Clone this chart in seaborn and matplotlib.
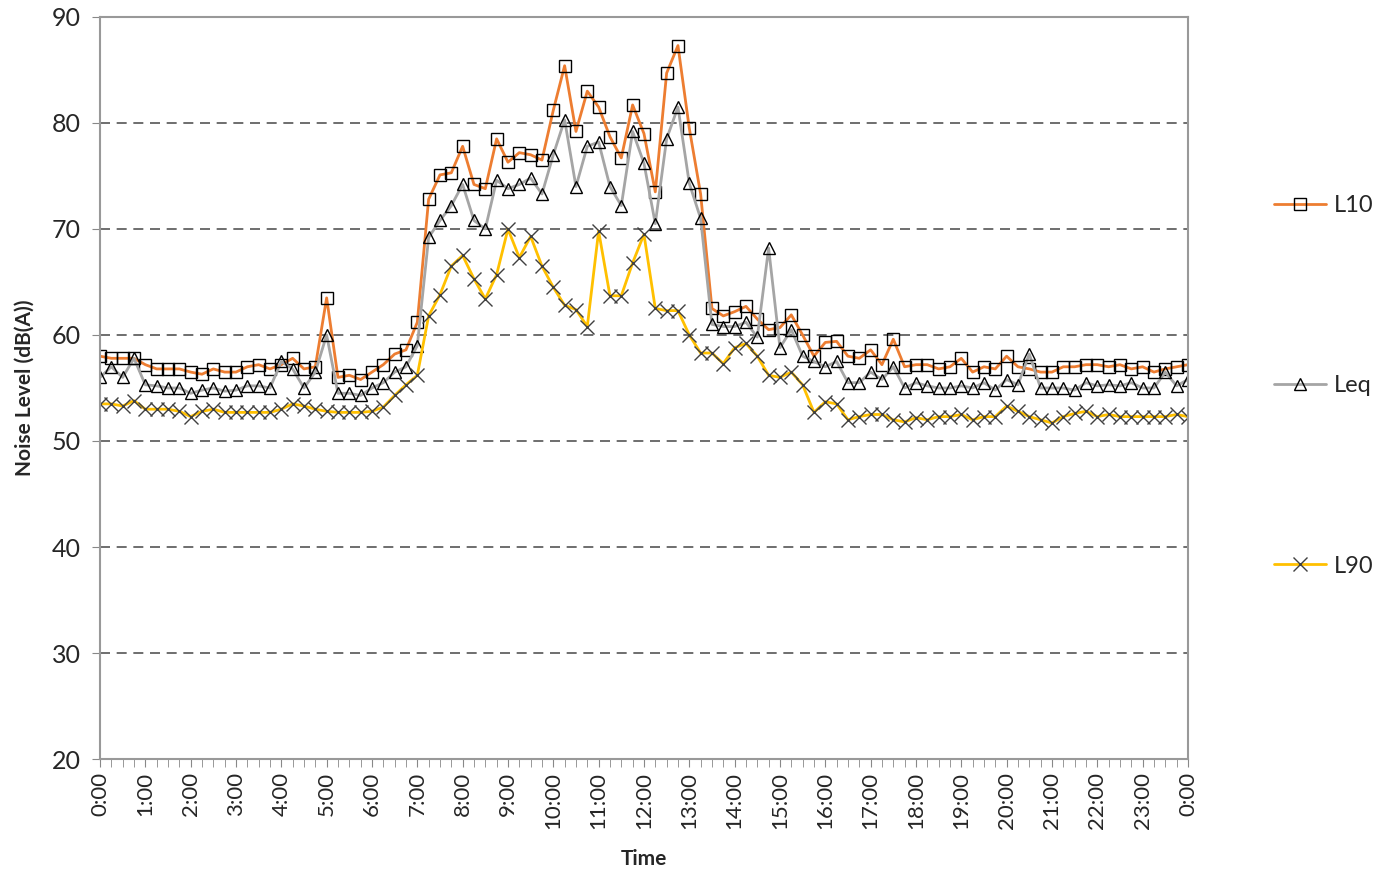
"""
Daily noise levels (L10, Leq, L90) at 15-minute intervals
"""
import numpy as np
import pandas as pd
import matplotlib
matplotlib.use("Agg")
import matplotlib.pyplot as plt
import seaborn as sns

# Readings every 15 minutes from 0:00 to 24:00 (97 points)
l10 = [
    58.0, 57.8, 57.8, 57.8, 57.2, 56.8, 56.8, 56.8, 56.5, 56.3, 56.8, 56.5,
    56.5, 57.0, 57.2, 56.8, 57.2, 57.8, 56.8, 57.0, 63.5, 56.0, 56.2, 55.8,
    56.5, 57.2, 58.2, 58.6, 61.2, 72.8, 75.1, 75.3, 77.8, 74.2, 73.8, 78.5,
    76.3, 77.2, 77.0, 76.5, 81.2, 85.4, 79.2, 83.0, 81.5, 78.7, 76.7, 81.7,
    79.0, 73.5, 84.7, 87.3, 79.5, 73.3, 62.5, 61.8, 62.2, 62.7, 61.5, 60.5,
    60.7, 61.9, 60.0, 58.0, 59.3, 59.4, 58.0, 57.8, 58.6, 57.2, 59.6, 57.0,
    57.2, 57.2, 56.8, 57.0, 57.8, 56.5, 57.0, 56.8, 58.0, 57.0, 56.8, 56.5,
    56.5, 57.0, 57.0, 57.2, 57.2, 57.0, 57.2, 56.8, 57.0, 56.5, 56.8, 57.0,
    57.2,
]
leq = [
    56.0, 57.0, 56.0, 57.8, 55.3, 55.2, 55.0, 55.0, 54.5, 54.8, 55.0, 54.7,
    54.8, 55.2, 55.2, 55.0, 57.5, 56.8, 55.0, 56.5, 60.0, 54.5, 54.5, 54.3,
    55.0, 55.5, 56.5, 57.0, 59.0, 69.2, 70.8, 72.2, 74.2, 70.8, 70.0, 74.6,
    73.8, 74.2, 74.8, 73.3, 77.0, 80.3, 74.0, 77.8, 78.2, 74.0, 72.2, 79.2,
    76.2, 70.5, 78.5, 81.5, 74.3, 71.0, 61.0, 60.8, 60.8, 61.2, 59.8, 68.2,
    58.8, 60.5, 58.0, 57.5, 57.0, 57.5, 55.5, 55.5, 56.5, 55.8, 57.0, 55.0,
    55.5, 55.2, 55.0, 55.0, 55.2, 55.0, 55.5, 54.8, 55.8, 55.3, 58.2, 55.0,
    55.0, 55.0, 54.8, 55.5, 55.2, 55.3, 55.2, 55.5, 55.0, 55.0, 56.5, 55.2,
    55.8,
]
l90 = [
    53.5, 53.5, 53.3, 53.8, 53.0, 53.0, 53.0, 52.8, 52.3, 52.8, 53.0, 52.7,
    52.7, 52.7, 52.7, 52.7, 53.0, 53.5, 53.3, 53.0, 52.8, 52.7, 52.7, 52.7,
    52.8, 53.2, 54.3, 55.3, 56.2, 61.8, 63.8, 66.5, 67.5, 65.3, 63.4, 65.7,
    70.0, 67.3, 69.3, 66.5, 64.5, 62.8, 62.4, 60.8, 69.8, 63.7, 63.7, 66.8,
    69.5, 62.5, 62.3, 62.3, 60.0, 58.3, 58.3, 57.3, 58.8, 59.2, 58.0, 56.2,
    56.0, 56.5, 55.3, 52.7, 53.7, 53.5, 52.0, 52.3, 52.5, 52.5, 52.0, 51.8,
    52.2, 52.0, 52.3, 52.3, 52.5, 52.0, 52.3, 52.3, 53.3, 52.8, 52.3, 52.0,
    51.7, 52.3, 52.6, 52.8, 52.3, 52.5, 52.3, 52.3, 52.3, 52.3, 52.3, 52.5,
    52.3,
]
hour_labels = [f"{h}:00" for h in range(24)] + ["0:00"]

# Build a long-form table for seaborn
hours = np.arange(len(l10)) * 0.25
df = pd.DataFrame({"hour": hours, "L10": l10, "Leq": leq, "L90": l90})
long_df = df.melt(id_vars="hour", var_name="series", value_name="level")

sns.set_style("white")
plt.rcParams["font.family"] = ["Lato", "DejaVu Sans"]

fig = plt.figure(figsize=(13.81, 8.83), dpi=100)
ax = fig.add_axes([0.0724, 0.1404, 0.7878, 0.8404])

styles = {
    "L10": dict(color="#ED7D31", marker="s", ms=9),
    "Leq": dict(color="#A5A5A5", marker="^", ms=9),
    "L90": dict(color="#FFC000", marker="x", ms=10),
}
for name, st in styles.items():
    sub = long_df[long_df["series"] == name]
    sns.lineplot(
        data=sub, x="hour", y="level", ax=ax, color=st["color"], lw=2.0,
        marker=st["marker"], markersize=st["ms"], markerfacecolor="none",
        markeredgecolor="#404040" if name == "L90" else "black",
        markeredgewidth=1.0, label=name,
    )

ax.set_xlim(0, 24)
ax.set_ylim(20, 90)
ax.set_yticks(range(20, 91, 10))
ax.set_xticks(range(25))
ax.set_xticklabels(hour_labels, rotation=90, fontsize=16)
ax.set_xticks(hours, minor=True)
ax.tick_params(axis="y", labelsize=18, length=6, color="#888888", direction="out", left=True, pad=8)
ax.tick_params(axis="x", which="both", length=6, color="#888888", direction="out", bottom=True)

# Dashed horizontal gridlines
for y in range(30, 90, 10):
    ax.axhline(y, color="#555555", lw=1.2, ls=(0, (6, 4)), zorder=0)

for spine in ax.spines.values():
    spine.set_color("#999999")
    spine.set_linewidth(1.5)

ax.set_xlabel("Time", fontsize=15, fontweight="bold", labelpad=14)
ax.set_ylabel("Noise Level (dB(A))", fontsize=15, fontweight="bold", labelpad=12)

ax.legend(
    loc="center left", bbox_to_anchor=(1.06, 0.503), frameon=False,
    fontsize=17, labelspacing=6.75, handlelength=2.2, handletextpad=0.3,
)

fig.savefig("out.png", dpi=100)
